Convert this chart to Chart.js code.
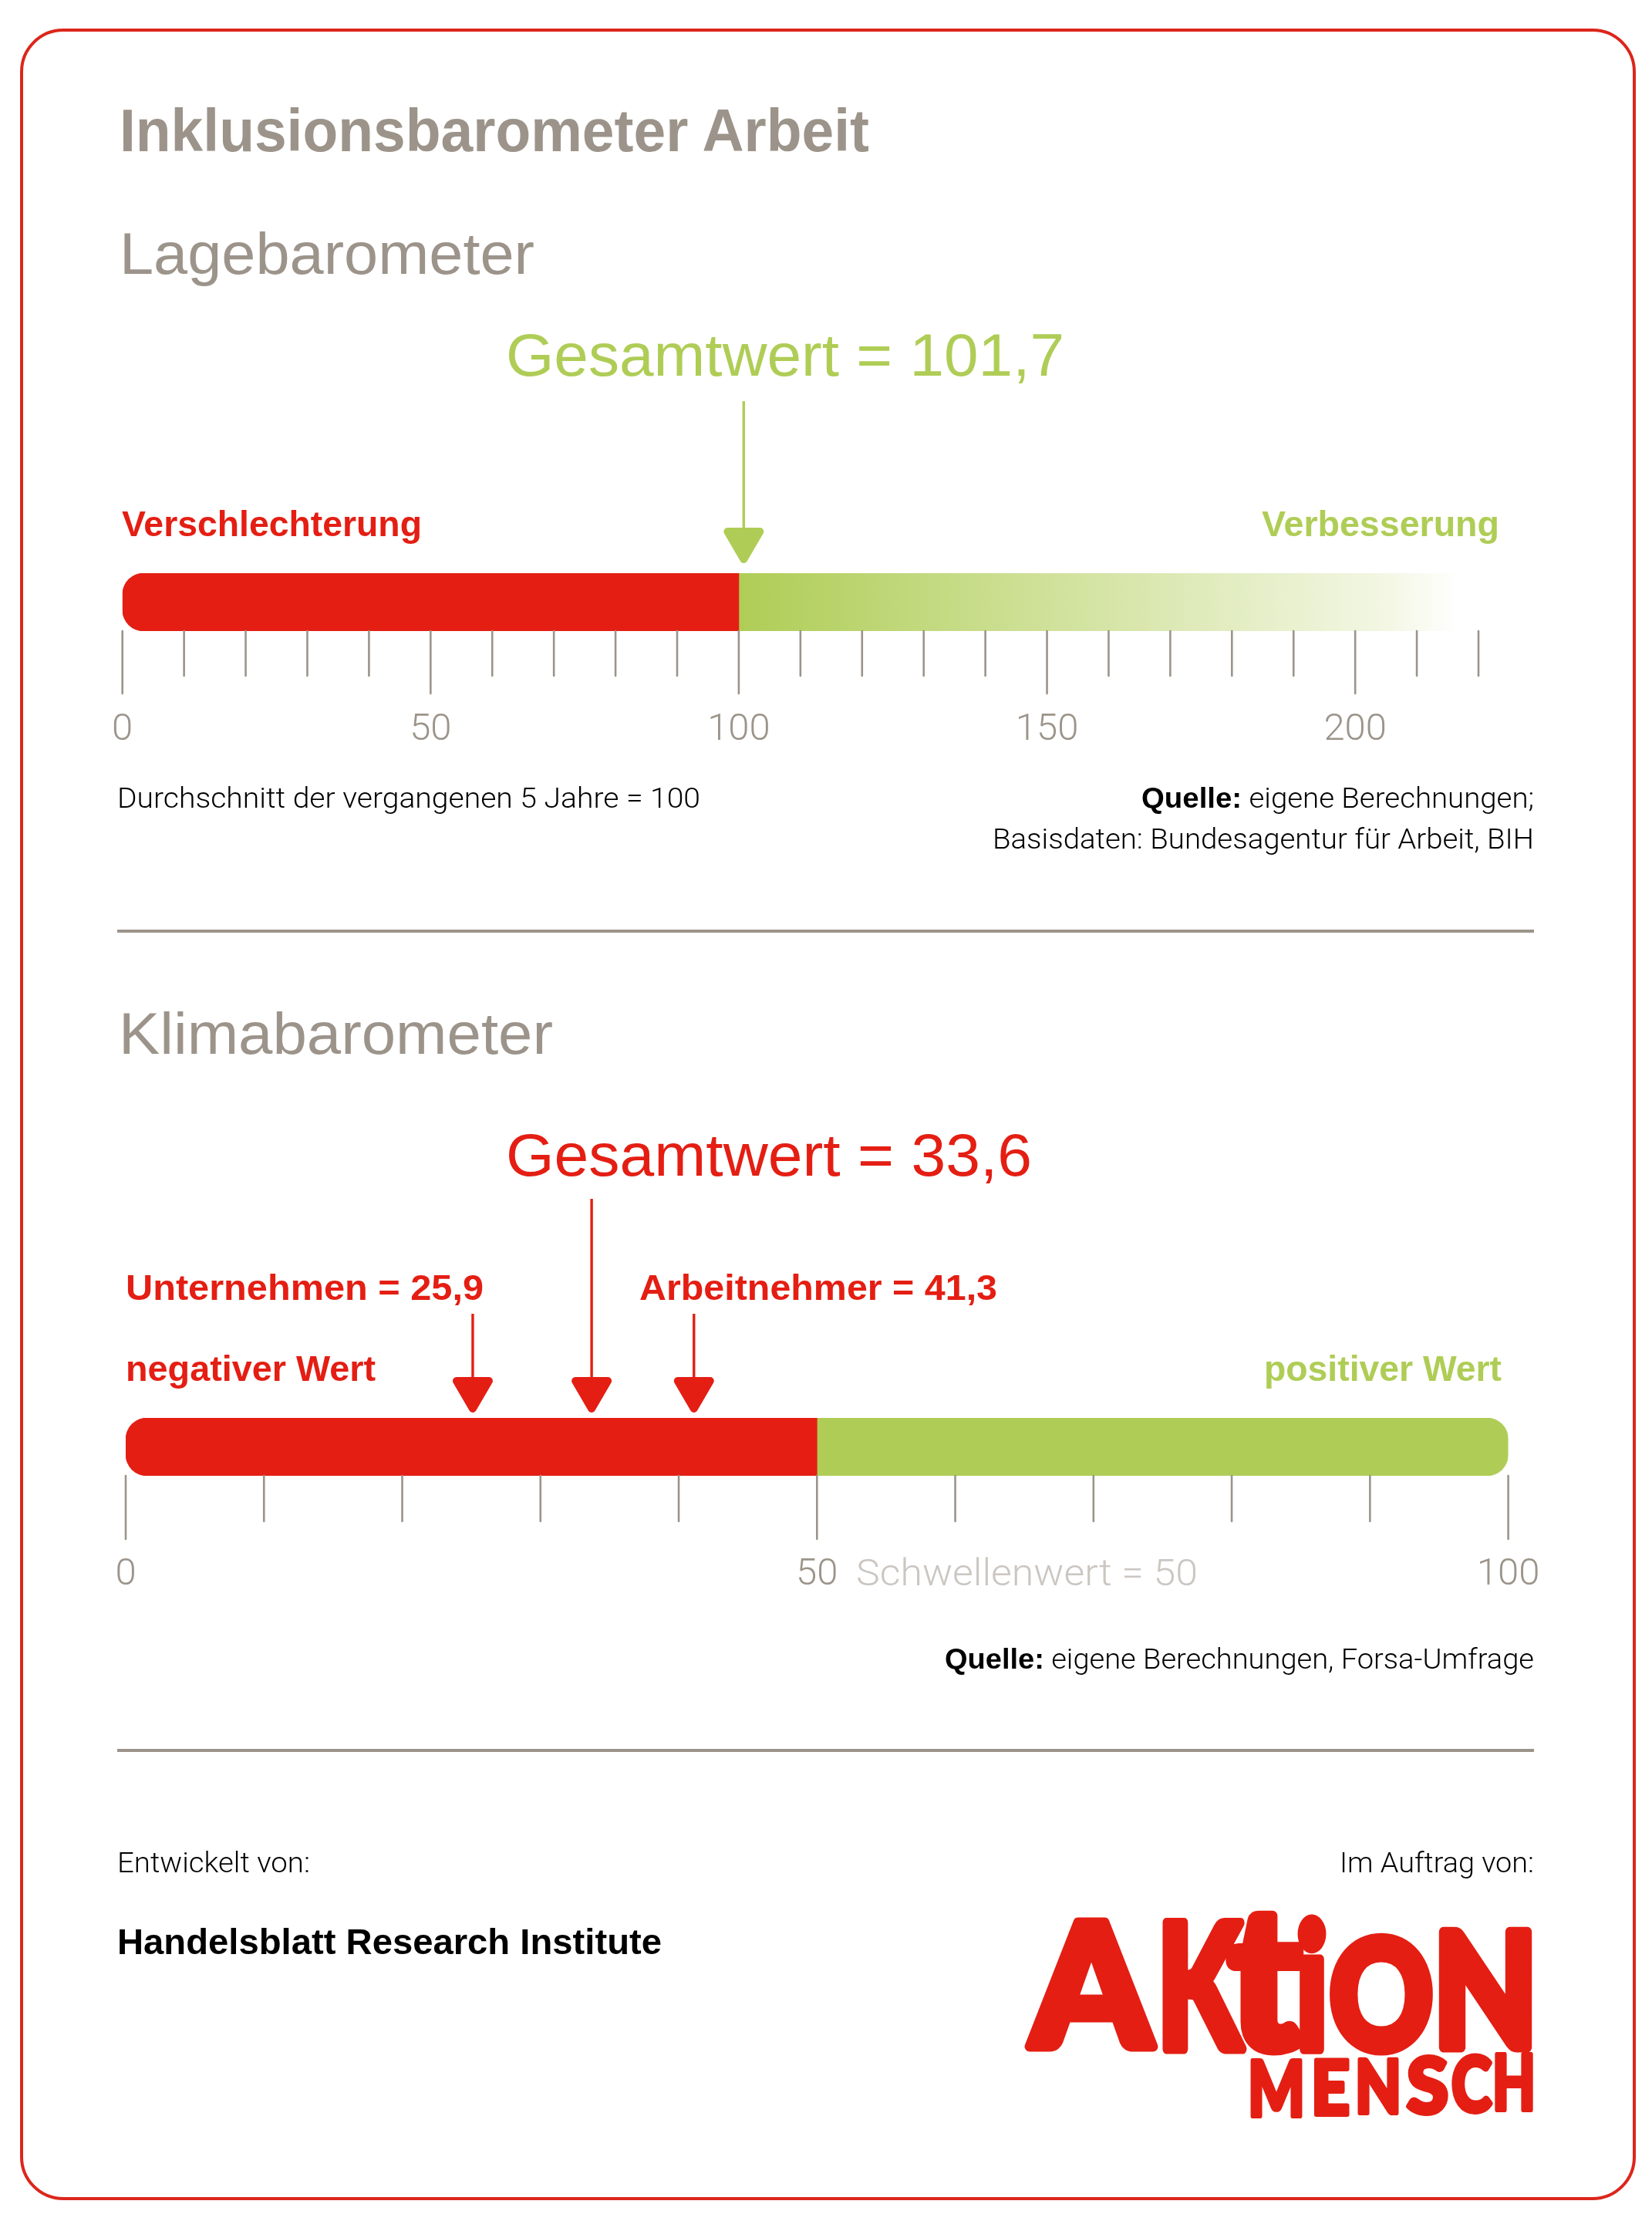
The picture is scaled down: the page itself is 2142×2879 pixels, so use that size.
<!DOCTYPE html>
<html lang="de">
<head>
  <meta charset="UTF-8" />
  <title>Inklusionsbarometer Arbeit</title>
  <script src="https://cdn.jsdelivr.net/npm/chart.js"></script>
  <style>
    html, body { margin: 0; background: #fff; }
    #page { position: relative; width: 2142px; height: 2879px; overflow: hidden; }
    #frame { position: absolute; left: 26px; top: 37px; width: 2087px; height: 2807px; border: 4.5px solid #dc261b; border-radius: 56px; }
    .rule { position: absolute; left: 152px; width: 1837px; height: 4px; background: #9c948a; }
    .txt { position: absolute; white-space: nowrap; line-height: 1; font-family: "Liberation Sans", sans-serif; transform-origin: 0 50%; }
    .light { font-family: Roboto, sans-serif; font-weight: 300; }
    .light b { font-family: "Liberation Sans", sans-serif; font-weight: 700; }
    canvas { position: absolute; left: 0; }
    #logo { position: absolute; left: 0; top: 0; }
    #logo text { font-family: Lato, Inter, sans-serif; font-weight: 900; fill: #e41e13; stroke: #e41e13; stroke-width: 13; stroke-linejoin: round; }
    #logo .small text { stroke-width: 6; }
  </style>
</head>
<body>
<div id="page">
  <div id="frame"></div>
  <div class="rule" style="top:1205px"></div>
  <div class="rule" style="top:2267px"></div>
  <canvas id="lageChart" width="2142" height="470" style="top:500px"></canvas>
  <canvas id="klimaChart" width="2142" height="565" style="top:1500px"></canvas>
  <svg id="logo" width="2142" height="2879">
    <text x="1337" y="2653" font-size="222" textLength="156" lengthAdjust="spacingAndGlyphs">A</text>
    <text x="1500" y="2656" font-size="226" textLength="110" lengthAdjust="spacingAndGlyphs">K</text>
    <text x="1592" y="2656" font-size="258" textLength="96" lengthAdjust="spacingAndGlyphs">t</text>
    <text x="1680" y="2656" font-size="226" textLength="42" lengthAdjust="spacingAndGlyphs">i</text>
    <text x="1724" y="2656" font-size="196" textLength="134" lengthAdjust="spacingAndGlyphs">O</text>
    <text x="1858" y="2654" font-size="206" textLength="136" lengthAdjust="spacingAndGlyphs">N</text>
    <g class="small">
      <text x="1618" y="2743" font-size="100" textLength="74" lengthAdjust="spacingAndGlyphs">M</text>
      <text x="1700" y="2741" font-size="98" textLength="50" lengthAdjust="spacingAndGlyphs">E</text>
      <text x="1757" y="2739" font-size="96" textLength="60" lengthAdjust="spacingAndGlyphs">N</text>
      <text x="1824" y="2739" font-size="100" textLength="54" lengthAdjust="spacingAndGlyphs">S</text>
      <text x="1882" y="2737" font-size="100" textLength="52" lengthAdjust="spacingAndGlyphs">C</text>
      <text x="1935" y="2735" font-size="100" textLength="56" lengthAdjust="spacingAndGlyphs">H</text>
    </g>
  </svg>
</div>

<script>
  // Lagebarometer: axis 0-220, red up to 100, green fades out around 217
  const lageCategory = ['Lagebarometer'];
  const lageRed = [100];
  const lageGreen = [117];
  const lageMajorTicks = [0, 50, 100, 150, 200];
  const lageArrows = [100.8]; // where the arrow sits in the picture (label says 101,7)

  // Klimabarometer: axis 0-100, threshold at 50
  const klimaCategory = ['Klimabarometer'];
  const klimaRed = [50];
  const klimaGreen = [50];
  const klimaMajorTicks = [0, 50, 100];
  const klimaArrows = [25.1, 33.7, 41.1]; // (labels say 25,9 / 33,6 / 41,3)
  const klimaArrowLengths = [128, 277, 128];

  const RED = '#e41e13';
  const GREEN = '#afcd56';
  const GREY = '#9c948a';

  const page = document.getElementById('page');

  // text with its baseline at y, squeezed or stretched to a given width
  function addText(html, x, y, size, color, width, cls) {
    const el = document.createElement('div');
    el.className = 'txt ' + (cls || '');
    el.innerHTML = html + '<span style="display:inline-block;width:0;height:0"></span>';
    el.style.cssText = `left:${x}px;top:0;font-size:${size}px;color:${color}`;
    page.appendChild(el);
    const base = el.lastChild.getBoundingClientRect().bottom - page.getBoundingClientRect().top;
    el.style.top = (y - base) + 'px';
    if (width) el.style.transform = `scaleX(${width / el.getBoundingClientRect().width})`;
  }

  addText('<b>Inklusionsbarometer Arbeit</b>', 155, 196, 78, GREY, 972);
  addText('Lagebarometer', 155, 355, 76, GREY, 538);
  addText('Gesamtwert = 101,7', 656, 487, 78, GREEN, 724);
  addText('<b>Verschlechterung</b>', 158, 695, 47, RED, 389);
  addText('<b>Verbesserung</b>', 1636, 695, 47, GREEN, 308);
  addText('Durchschnitt der vergangenen 5 Jahre = 100', 152, 1047, 36, '#000', 756, 'light');
  addText('<b>Quelle:</b> eigene Berechnungen;', 1480, 1047, 36, '#000', 509, 'light');
  addText('Basisdaten: Bundesagentur für Arbeit, BIH', 1287, 1100, 36, '#000', 702, 'light');

  addText('Klimabarometer', 154, 1366, 76, GREY, 563);
  addText('Gesamtwert = 33,6', 656, 1524, 78, RED, 682);
  addText('<b>Unternehmen = 25,9</b>', 163, 1685, 47, RED, 464);
  addText('<b>Arbeitnehmer = 41,3</b>', 829, 1685, 47, RED, 464);
  addText('<b>negativer Wert</b>', 163, 1790, 47, RED, 324);
  addText('<b>positiver Wert</b>', 1639, 1790, 47, GREEN, 308);
  addText('Schwellenwert = 50', 1110, 2055, 49, '#cbc6c1', 443, 'light');
  addText('<b>Quelle:</b> eigene Berechnungen, Forsa-Umfrage', 1225, 2163, 36, '#000', 764, 'light');

  addText('Entwickelt von:', 152, 2427, 36, '#000', 250, 'light');
  addText('Im Auftrag von:', 1737, 2427, 36, '#000', 252, 'light');
  addText('<b>Handelsblatt Research Institute</b>', 152, 2533, 46, '#000', 706);

  // long/short scale ticks and the arrows above the bar
  const barometerPlugin = {
    id: 'barometer',
    afterDraw(chart, args, opts) {
      const { ctx, chartArea } = chart;
      const x = chart.scales.x;
      ctx.save();
      ctx.strokeStyle = GREY;
      ctx.lineWidth = 2.6;
      ctx.lineCap = 'round';
      x.ticks.forEach((tick) => {
        const px = x.getPixelForValue(tick.value);
        const len = opts.majors.includes(tick.value) ? opts.longTick : opts.shortTick;
        ctx.beginPath();
        ctx.moveTo(px, chartArea.bottom);
        ctx.lineTo(px, chartArea.bottom + len);
        ctx.stroke();
      });
      ctx.strokeStyle = opts.arrowColor;
      ctx.fillStyle = opts.arrowColor;
      opts.arrows.forEach((value, i) => {
        const px = x.getPixelForValue(value);
        const tip = chartArea.top - opts.arrowGap;
        ctx.lineWidth = 3.4;
        ctx.lineCap = 'butt';
        ctx.beginPath();
        ctx.moveTo(px, tip - 40);
        ctx.lineTo(px, tip - opts.lengths[i]);
        ctx.stroke();
        ctx.lineWidth = 10;
        ctx.lineJoin = 'round';
        ctx.beginPath();
        ctx.moveTo(px - 21, tip - 41);
        ctx.lineTo(px + 21, tip - 41);
        ctx.lineTo(px, tip - 5);
        ctx.closePath();
        ctx.fill();
        ctx.stroke();
      });
      ctx.restore();
    },
  };

  function barChart(id, cfg) {
    return new Chart(document.getElementById(id), {
      type: 'bar',
      data: {
        labels: cfg.labels,
        datasets: [
          { data: cfg.red, backgroundColor: RED, borderSkipped: false,
            borderRadius: { topLeft: 28, bottomLeft: 28, topRight: 0, bottomRight: 0 } },
          { data: cfg.green, backgroundColor: cfg.greenFill, borderSkipped: false,
            borderRadius: cfg.greenRadius },
        ],
      },
      plugins: [barometerPlugin],
      options: {
        indexAxis: 'y',
        responsive: false,
        animation: false,
        devicePixelRatio: 1,
        barPercentage: 1,
        categoryPercentage: 1,
        layout: { padding: cfg.padding },
        plugins: {
          legend: { display: false },
          tooltip: { enabled: false },
          barometer: {
            majors: cfg.majors, arrows: cfg.arrows, lengths: cfg.lengths, arrowColor: cfg.arrowColor,
            arrowGap: cfg.arrowGap, longTick: cfg.longTick, shortTick: cfg.shortTick,
          },
        },
        scales: {
          y: { display: false, stacked: true },
          x: {
            stacked: true,
            min: 0,
            max: cfg.max,
            afterFit(scale) {
              scale.paddingLeft = 0;
              scale.paddingRight = 0;
              scale.height = 152;
            },
            grid: { display: false, drawTicks: false },
            border: { display: false },
            ticks: {
              stepSize: 10,
              autoSkip: false,
              maxRotation: 0,
              padding: cfg.labelPad,
              color: GREY,
              font: { family: 'Roboto', weight: '300', size: 49 },
              callback: (v) => (cfg.majors.includes(v) ? String(v) : ''),
            },
          },
        },
      },
    });
  }

  barChart('lageChart', {
    labels: lageCategory,
    red: lageRed,
    green: lageGreen,
    greenFill(ctx) {
      const x = ctx.chart.scales.x;
      const from = x ? x.getPixelForValue(lageRed[0]) : NaN;
      const to = x ? x.getPixelForValue(lageRed[0] + lageGreen[0]) : NaN;
      if (!Number.isFinite(from) || !Number.isFinite(to)) return GREEN;
      const g = ctx.chart.ctx.createLinearGradient(from, 0, to, 0);
      g.addColorStop(0, GREEN);
      g.addColorStop(0.9, '#f3f7e4');
      g.addColorStop(1, '#ffffff');
      return g;
    },
    greenRadius: 0,
    padding: { left: 158.7, right: 225, top: 243, bottom: 0 },
    max: 220,
    majors: lageMajorTicks,
    arrows: lageArrows,
    lengths: [210],
    arrowColor: GREEN,
    arrowGap: 13,
    longTick: 81,
    shortTick: 58,
    labelPad: 99,
  });

  barChart('klimaChart', {
    labels: klimaCategory,
    red: klimaRed,
    green: klimaGreen,
    greenFill: GREEN,
    greenRadius: { topLeft: 0, bottomLeft: 0, topRight: 28, bottomRight: 28 },
    padding: { left: 163, right: 186.4, top: 338, bottom: 0 },
    max: 100,
    majors: klimaMajorTicks,
    arrows: klimaArrows,
    lengths: klimaArrowLengths,
    arrowColor: RED,
    arrowGap: 7,
    longTick: 82,
    shortTick: 59,
    labelPad: 99,
  });
</script>
</body>
</html>
